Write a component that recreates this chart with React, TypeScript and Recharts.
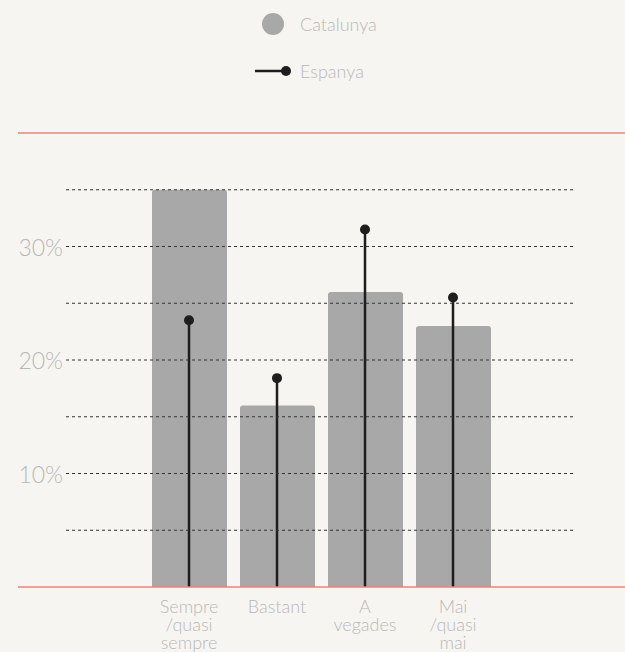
import { ComposedChart, Bar, XAxis, YAxis, ReferenceLine, Legend } from 'recharts';

const categories = ['Sempre /quasi sempre', 'Bastant', 'A vegades', 'Mai /quasi mai'];
const tickLines = [['Sempre', '/quasi', 'sempre'], ['Bastant'], ['A', 'vegades'], ['Mai', '/quasi', 'mai']];
const catalunya = [35, 16, 26, 23];
const espanya = [23.5, 18.4, 31.5, 25.5];
const yTicks = [10, 20, 30];
const gridValues = [5, 10, 15, 20, 25, 30, 35];

const data = categories.map((name, i) => ({ name, idx: i, cat: catalunya[i], esp: espanya[i] }));

const FONT = 'Lato, "Open Sans", sans-serif';
const BG = '#f7f5f1';
const GREY = '#a7a8a7';
const RED = '#e8837c';
const DARK = '#1e1e1e';
const LABEL = '#b8b8b8';

const WideLine = (props: any) => (
  <line x1={props.x1 - 48} x2={props.x2 + 49} y1={props.y1} y2={props.y2} stroke={RED} strokeWidth={1.5} />
);

const Lollipop = (props: any) => {
  const { x, y, width, height } = props;
  const cx = x + width / 2;
  return (
    <g>
      <line x1={cx} x2={cx} y1={y} y2={y + height} stroke={DARK} strokeWidth={2.5} />
      <circle cx={cx} cy={y} r={5} fill={DARK} />
    </g>
  );
};

const LeftTick = (props: any) => (
  <text x={props.x} y={props.y} dy={9} textAnchor="end" fontSize={23} fontWeight={300} fill={LABEL} fontFamily={FONT}>
    {props.payload.value}%
  </text>
);

const RightTick = (props: any) => (
  <text x={props.x} y={props.y} dy={9} textAnchor="start" fontSize={23} fontWeight={300} fill={LABEL} fontFamily={FONT}>
    {props.payload.value}%
  </text>
);

const CatTick = (props: any) => {
  const i = props.payload.index;
  const lines = tickLines[i] || [props.payload.value];
  return (
    <text x={props.x} y={props.y} textAnchor="middle" fontSize={18} fontWeight={300} fill={LABEL} fontFamily={FONT}>
      {lines.map((l, k) => (
        <tspan key={k} x={props.x} dy={k === 0 ? 18 : 18}>{l}</tspan>
      ))}
    </text>
  );
};

const LegendBox = () => (
  <div style={{ position: 'relative', width: 625, height: 95, fontFamily: FONT, fontWeight: 300, fontSize: 18, color: LABEL }}>
    <svg width={625} height={95} style={{ position: 'absolute', left: 0, top: 0 }}>
      <circle cx={273} cy={24} r={11} fill={GREY} />
      <line x1={255} x2={286} y1={71} y2={71} stroke={DARK} strokeWidth={2.5} />
      <circle cx={286} cy={71} r={5} fill={DARK} />
    </svg>
    <div style={{ position: 'absolute', left: 300, top: 12, lineHeight: '24px' }}>Catalunya</div>
    <div style={{ position: 'absolute', left: 300, top: 59, lineHeight: '24px' }}>Espanya</div>
  </div>
);

export default function App() {
  return (
    <div style={{ position: 'absolute', left: 0, top: 0, width: 625, height: 652, background: BG, fontFamily: FONT }}>
      <ComposedChart width={625} height={652} data={data} margin={{ top: 38, right: 0, left: 18, bottom: 0 }}>
        <XAxis xAxisId="cat" dataKey="name" padding={{ left: 79, right: 79 }} axisLine={false} tickLine={false}
          tick={<CatTick />} height={65} interval={0} />
        <XAxis xAxisId="esp" dataKey="name" padding={{ left: 79, right: 79 }} hide />
        <YAxis yAxisId="left" domain={[0, 40]} ticks={yTicks} width={48} axisLine={false} tickLine={false}
          tickSize={0} tickMargin={3} tick={<LeftTick />} />
        <YAxis yAxisId="right" orientation="right" domain={[0, 40]} ticks={yTicks} width={49} axisLine={false}
          tickLine={false} tickSize={0} tickMargin={4} tick={<RightTick />} />
        <Legend verticalAlign="top" content={<LegendBox />} wrapperStyle={{ top: 0, left: 0, width: 625, height: 95 }} />
        <Bar xAxisId="cat" yAxisId="left" dataKey="cat" name="Catalunya" barSize={75} fill={GREY}
          radius={[3, 3, 0, 0]} isAnimationActive={false} />
        <Bar xAxisId="esp" yAxisId="left" dataKey="esp" name="Espanya" barSize={10} shape={<Lollipop />}
          isAnimationActive={false} />
        {gridValues.map((v) => (
          <ReferenceLine key={v} xAxisId="cat" yAxisId="left" y={v} stroke="#333" strokeDasharray="3 3" strokeWidth={1} />
        ))}
        <ReferenceLine xAxisId="cat" yAxisId="left" y={40} shape={<WideLine />} />
        <ReferenceLine xAxisId="cat" yAxisId="left" y={0} shape={<WideLine />} />
      </ComposedChart>
    </div>
  );
}
